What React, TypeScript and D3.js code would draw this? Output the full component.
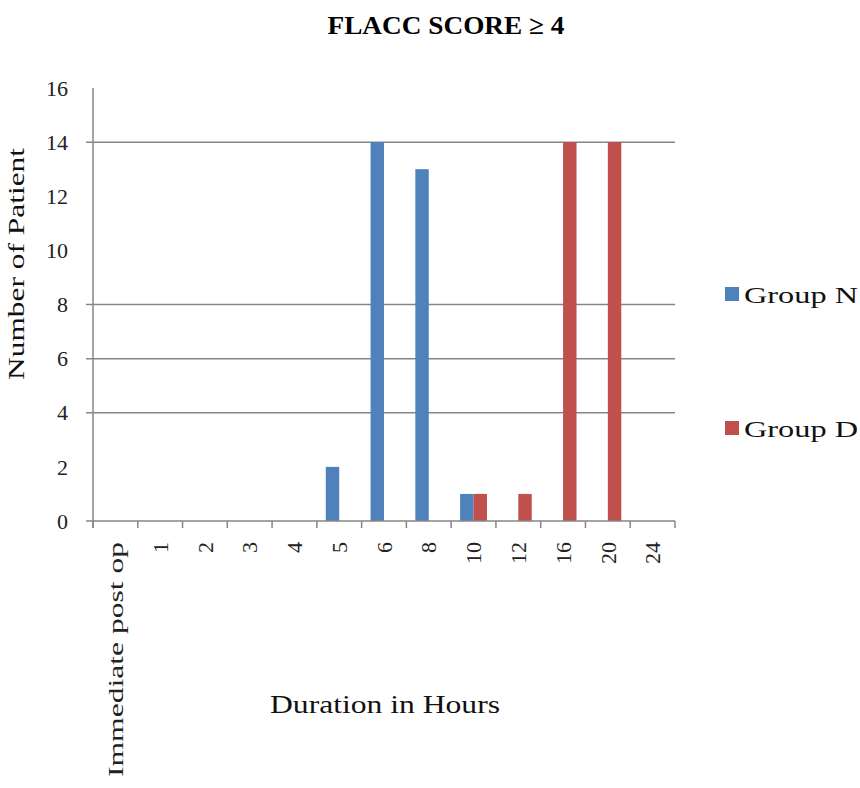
import React from "react";
import * as d3 from "d3";

const categories = ["Immediate post op", "1", "2", "3", "4", "5", "6", "8", "10", "12", "16", "20", "24"];
const seriesNames = ["Group N", "Group D"];
const groupN = [0, 0, 0, 0, 0, 2, 14, 13, 1, 0, 0, 0, 0];
const groupD = [0, 0, 0, 0, 0, 0, 0, 0, 1, 1, 14, 14, 0];
const yTicks = [0, 2, 4, 6, 8, 10, 12, 14, 16];
const gridValues = [4, 6, 8, 14];
const colors = ["#4F81BD", "#C0504D"];

const W = 860, H = 788;
const left = 93, right = 675, top = 88, bottom = 521;
const FONT = "'Liberation Serif', 'Times New Roman', serif";

export default function App() {
  const x = d3.scaleBand<string>().domain(categories).range([left, right]).paddingInner(0.4).paddingOuter(0.2);
  const xs = d3.scaleBand<string>().domain(seriesNames).range([0, x.bandwidth()]);
  const y = d3.scaleLinear().domain([0, 16]).range([bottom, top]);
  const step = x.step();
  const data = [groupN, groupD];
  const boundaries = d3.range(categories.length + 1).map((i) => left + i * step);

  return (
    <svg width={W} height={H} style={{ position: "absolute", left: 0, top: 0, background: "#fff" }} fontFamily={FONT}>
      <text x={446} y={34} textAnchor="middle" fontSize={26} fontWeight="bold" textLength={237} lengthAdjust="spacingAndGlyphs">FLACC SCORE ≥ 4</text>

      {gridValues.map((v) => (
        <line key={"g" + v} x1={left - 7} x2={right} y1={y(v)} y2={y(v)} stroke="#868686" strokeWidth={1.5} />
      ))}

      {data.map((vals, si) =>
        vals.map((v, i) =>
          v > 0 ? (
            <rect key={si + "-" + i} x={(x(categories[i]) as number) + (xs(seriesNames[si]) as number)} y={y(v)} width={xs.bandwidth()} height={y(0) - y(v)} fill={colors[si]} />
          ) : null
        )
      )}

      <line x1={left} x2={left} y1={top} y2={bottom + 7} stroke="#868686" strokeWidth={1.5} />
      <line x1={left - 7} x2={right} y1={bottom} y2={bottom} stroke="#868686" strokeWidth={1.5} />
      {boundaries.map((bx, i) => (
        <line key={"xt" + i} x1={bx} x2={bx} y1={bottom} y2={bottom + 7} stroke="#868686" strokeWidth={1.5} />
      ))}

      {yTicks.map((t) => (
        <text key={"yt" + t} x={68} y={y(t)} dy="0.35em" textAnchor="end" fontSize={22} fill="#222">{t}</text>
      ))}

      {categories.map((c, i) => {
        const cx = (x(c) as number) + x.bandwidth() / 2;
        const ty = 542;
        return (
          <text key={"xl" + i} transform={`translate(${cx},${ty}) rotate(-90)`} dy="0.35em" textAnchor="end" fontSize={22} fill="#222"
            {...(c.length > 3 ? { textLength: 235, lengthAdjust: "spacingAndGlyphs" } : {})}>{c}</text>
        );
      })}

      <text transform={`translate(24,264) rotate(-90)`} textAnchor="middle" fontSize={24} fill="#111" textLength={232} lengthAdjust="spacingAndGlyphs">Number of Patient</text>
      <text x={385} y={713} textAnchor="middle" fontSize={25} fill="#111" textLength={230} lengthAdjust="spacingAndGlyphs">Duration in Hours</text>

      {seriesNames.map((s, i) => {
        const ly = i === 0 ? 295 : 429;
        return (
          <g key={"lg" + i}>
            <rect x={725} y={ly - 8} width={14} height={14} fill={colors[i]} />
            <text x={744} y={ly} dy="0.35em" fontSize={24} fill="#111" textLength={114} lengthAdjust="spacingAndGlyphs">{s}</text>
          </g>
        );
      })}
    </svg>
  );
}
